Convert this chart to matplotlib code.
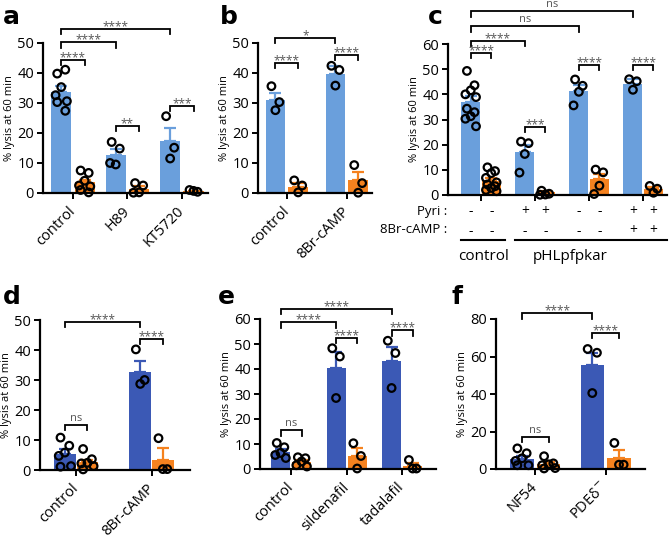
import matplotlib
matplotlib.use("Agg")
import matplotlib.pyplot as plt
import numpy as np
from matplotlib import transforms

plt.rcParams['font.family'] = ['Open Sans', 'DejaVu Sans']

LIGHT = "#6a9fdc"
DARK = "#3b59b5"
ORANGE = "#f5821f"
GREY = "#555555"

# ---------------- data ----------------
a_groups = ["control", "H89", "KT5720"]
a_blue_mean = [33.8, 12.8, 17.5]
a_blue_err = [2.0, 1.9, 4.2]
a_orange_mean = [3.6, 1.5, 0.6]
a_orange_err = [0.8, 0.7, 0.2]
a_blue_pts = [[39.8, 41.1, 35.3, 32.6, 30.6, 30.3, 27.4], [17.0, 14.8, 9.5, 10.0], [25.6, 15.1, 11.5]]
a_orange_pts = [[7.5, 6.7, 4.1, 2.5, 2.2, 1.0, 0.2], [3.3, 2.5, 0.2, 0.1], [1.0, 0.4, 0.7]]
a_brackets = [((0, 'b'), (0, 'o'), 44.4, "****"), ((0, 'b'), (1, 'b'), 50.2, "****"),
              ((0, 'b'), (2, 'b'), 54.7, "****"), ((1, 'b'), (1, 'o'), 22.4, "**"),
              ((2, 'b'), (2, 'o'), 29.1, "***")]

b_groups = ["control", "8Br-cAMP"]
b_blue_mean = [31.1, 39.8]
b_blue_err = [2.2, 2.4]
b_orange_mean = [2.0, 4.2]
b_orange_err = [1.3, 2.8]
b_blue_pts = [[35.6, 30.3, 27.6], [42.4, 41.0, 35.8]]
b_orange_pts = [[4.2, 2.5, 0.2], [9.3, 3.3, 0.1]]
b_brackets = [((0, 'b'), (1, 'b'), 51.7, "*"), ((0, 'b'), (0, 'o'), 43.3, "****"),
              ((1, 'b'), (1, 'o'), 46.1, "****")]

c_groups = ["", "", "", ""]
c_blue_mean = [36.9, 17.0, 41.5, 44.2]
c_blue_err = [2.4, 3.0, 2.1, 1.8]
c_orange_mean = [5.5, 1.0, 6.2, 2.3]
c_orange_err = [1.1, 0.4, 2.3, 0.8]
c_blue_pts = [[49.3, 43.6, 41.6, 40.0, 38.9, 34.3, 32.9, 31.3, 30.3, 27.3],
              [21.2, 20.6, 16.3, 8.9], [45.9, 43.4, 41.0, 35.6], [46.0, 45.2, 41.8]]
c_orange_pts = [[11.0, 9.5, 8.7, 6.8, 5.0, 4.2, 3.5, 2.8, 2.0, 1.5],
                [1.7, 0.5, 0.2, 0.1], [10.1, 9.0, 3.7, 0.4], [3.6, 2.5, 0.9]]
c_brackets = [((0, 'b'), (0, 'o'), 56.4, "****"), ((0, 'b'), (1, 'b'), 61.3, "****"),
              ((0, 'b'), (2, 'b'), 67.0, "ns"), ((0, 'b'), (3, 'b'), 73.0, "ns"),
              ((1, 'b'), (1, 'o'), 27.0, "***"), ((2, 'b'), (2, 'o'), 51.8, "****"),
              ((3, 'b'), (3, 'o'), 51.8, "****")]
c_pyri = ["-", "-", "+", "+", "-", "-", "+", "+"]
c_8br = ["-", "-", "-", "-", "-", "-", "+", "+"]
c_row_labels = ["Pyri :", "8Br-cAMP :"]
c_strain_labels = ["control", "pHLpfpkar"]

d_groups = ["control", "8Br-cAMP"]
d_blue_mean = [5.2, 32.8]
d_blue_err = [1.8, 3.7]
d_orange_mean = [2.6, 3.5]
d_orange_err = [0.9, 3.7]
d_blue_pts = [[10.8, 8.1, 5.8, 4.7, 1.3, 1.1], [40.2, 30.0, 28.7]]
d_orange_pts = [[7.0, 3.6, 2.4, 2.2, 1.3, 0.2], [10.6, 0.3, 0.3]]
d_brackets = [((0, 'b'), (1, 'b'), 49.4, "****"), ((1, 'b'), (1, 'o'), 43.6, "****"),
              ((0, 'b'), (0, 'o'), 15.0, "ns")]

e_groups = ["control", "sildenafil", "tadalafil"]
e_blue_mean = [6.8, 40.3, 43.2]
e_blue_err = [1.3, 6.5, 5.8]
e_orange_mean = [2.8, 5.3, 1.2]
e_orange_err = [0.8, 3.1, 1.3]
e_blue_pts = [[10.4, 8.7, 6.4, 5.6, 4.4], [48.3, 45.0, 28.4], [51.3, 46.4, 32.4]]
e_orange_pts = [[4.7, 4.3, 3.0, 1.5, 1.0], [10.3, 5.2, 0.2], [3.6, 0.2, 0.2]]
e_brackets = [((0, 'b'), (2, 'b'), 64.0, "****"), ((0, 'b'), (1, 'b'), 58.7, "****"),
              ((1, 'b'), (1, 'o'), 52.4, "****"), ((2, 'b'), (2, 'o'), 55.5, "****"),
              ((0, 'b'), (0, 'o'), 15.5, "ns")]

f_groups = ["NF54", "PDEδ$^{-}$"]
f_blue_mean = [5.5, 55.5]
f_blue_err = [1.7, 6.5]
f_orange_mean = [2.8, 6.0]
f_orange_err = [1.0, 4.0]
f_blue_pts = [[11.0, 8.4, 5.7, 4.3, 2.0, 2.0], [64.0, 62.0, 40.5]]
f_orange_pts = [[6.8, 3.0, 2.5, 2.0, 0.5, 0.3], [13.9, 2.3, 2.3]]
f_brackets = [((0, 'b'), (1, 'b'), 83.0, "****"), ((1, 'b'), (1, 'o'), 72.7, "****"),
              ((0, 'b'), (0, 'o'), 17.2, "ns")]

# ---------------- layout ----------------
W, H = 670, 538
fig = plt.figure(figsize=(W / 100, H / 100), dpi=100)


def add_ax(x0, x1, ytop, ybot):
    ax = fig.add_axes([x0 / W, 1 - ybot / H, (x1 - x0) / W, (ybot - ytop) / H])
    ax._px_width = x1 - x0
    return ax


def jitter(n, width):
    pat = [-0.2, 0.2, 0.0, -0.28, 0.28]
    return np.array([pat[i % len(pat)] for i in range(n)]) * width


def panel(ax, groups, bm, be, om, oe, bp, op, brackets, ylim, yticks, xlim,
          width, off, bcolor, label_rot=True):
    x = np.arange(len(groups))
    pos = {'b': -off, 'o': off}
    for col, mean, err, pts, key in [(bcolor, bm, be, bp, 'b'), (ORANGE, om, oe, op, 'o')]:
        xs = x + pos[key]
        ax.bar(xs, mean, width, color=col, zorder=1)
        ax.errorbar(xs, mean, yerr=[np.zeros(len(mean)), err], fmt='none',
                    ecolor=col, elinewidth=1.6, capsize=4, capthick=1.6, zorder=1)
        for xi, vals in zip(xs, pts):
            v = np.array(vals)
            ax.scatter(xi + jitter(len(v), width), v, s=30, facecolors='none',
                       edgecolors='black', linewidths=1.6, zorder=3, clip_on=False)
    ax.set_xlim(*xlim)
    ax.set_ylim(*ylim)
    ax.set_yticks(yticks)
    ax.set_xticks(x)
    if label_rot:
        ax.set_xticklabels(groups, rotation=45, ha='right', va='center',
                           rotation_mode='anchor', fontsize=11)
    else:
        ax.set_xticklabels(groups)
    for s in ['top', 'right']:
        ax.spines[s].set_visible(False)
    for s in ['left', 'bottom']:
        ax.spines[s].set_linewidth(1.6)
    ax.tick_params(axis='both', width=1.4, length=4.5, labelsize=10.5)
    ax.tick_params(axis='x', pad=7)
    ax.tick_params(axis='y', pad=2)
    ax.set_ylabel("% lysis at 60 min", fontsize=8)
    ax.yaxis.set_label_coords(-28.0 / ax._px_width, 0.5)
    rng = ylim[1] - ylim[0]
    tick = 0.035 * rng
    for (g1, k1), (g2, k2), y, txt in brackets:
        x1 = g1 + pos[k1]
        x2 = g2 + pos[k2]
        ax.plot([x1, x1, x2, x2], [y - tick, y, y, y - tick], color='black', lw=1.3,
                clip_on=False, zorder=4, solid_joinstyle='miter')
        if txt == 'ns':
            ax.text((x1 + x2) / 2, y + 0.008 * rng, txt, ha='center', va='bottom',
                    fontsize=8, color=GREY, clip_on=False)
        else:
            ax.text((x1 + x2) / 2, y - 0.028 * rng, txt, ha='center', va='bottom',
                    fontsize=8.5, color=GREY, clip_on=False)
    return x, pos


ax_a = add_ax(43, 208, 43, 193)
panel(ax_a, a_groups, a_blue_mean, a_blue_err, a_orange_mean, a_orange_err,
      a_blue_pts, a_orange_pts, a_brackets, (0, 50), [0, 10, 20, 30, 40, 50],
      (-0.55, 2.48), 0.37, 0.215, LIGHT)

ax_b = add_ax(258, 372, 43, 193)
panel(ax_b, b_groups, b_blue_mean, b_blue_err, b_orange_mean, b_orange_err,
      b_blue_pts, b_orange_pts, b_brackets, (0, 50), [0, 10, 20, 30, 40, 50],
      (-0.48, 1.42), 0.33, 0.19, LIGHT)

ax_c = add_ax(448, 667, 44, 195)
xc, posc = panel(ax_c, c_groups, c_blue_mean, c_blue_err, c_orange_mean, c_orange_err,
                 c_blue_pts, c_orange_pts, c_brackets, (0, 60), [0, 10, 20, 30, 40, 50, 60],
                 (-0.61, 3.44), 0.35, 0.19, LIGHT, label_rot=False)
ax_c.set_xticklabels([])
tr = transforms.blended_transform_factory(ax_c.transData, fig.transFigure)
bar_x = []
for g in xc:
    bar_x += [g + posc['b'], g + posc['o']]
for xi, s1, s2 in zip(bar_x, c_pyri, c_8br):
    fig.text(xi, 1 - 212 / H, s1, transform=tr, ha='center', va='center', fontsize=10)
    fig.text(xi, 1 - 231 / H, s2, transform=tr, ha='center', va='center', fontsize=10)
fig.text(447 / W, 1 - 211 / H, c_row_labels[0], ha='right', va='center', fontsize=9.5)
fig.text(447 / W, 1 - 230 / H, c_row_labels[1], ha='right', va='center', fontsize=9.5)
ax_c.plot([xc[0] - 0.37, xc[0] + 0.45], [1 - 240 / H] * 2, transform=tr, color='black',
          lw=1.5, clip_on=False)
ax_c.plot([xc[1] - 0.37, 3.44], [1 - 240 / H] * 2, transform=tr, color='black',
          lw=1.5, clip_on=False)
fig.text(xc[0] + 0.04, 1 - 256 / H, c_strain_labels[0], transform=tr, ha='center',
         va='center', fontsize=11)
fig.text(1.65, 1 - 256 / H, c_strain_labels[1], transform=tr, ha='center',
         va='center', fontsize=11)

ax_d = add_ax(40, 190, 320, 470)
panel(ax_d, d_groups, d_blue_mean, d_blue_err, d_orange_mean, d_orange_err,
      d_blue_pts, d_orange_pts, d_brackets, (0, 50), [0, 10, 20, 30, 40, 50],
      (-0.48, 1.51), 0.29, 0.15, DARK)

ax_e = add_ax(260, 436, 319, 469)
panel(ax_e, e_groups, e_blue_mean, e_blue_err, e_orange_mean, e_orange_err,
      e_blue_pts, e_orange_pts, e_brackets, (0, 60), [0, 10, 20, 30, 40, 50, 60],
      (-0.56, 2.61), 0.34, 0.19, DARK)

ax_f = add_ax(496, 645, 319, 469)
panel(ax_f, f_groups, f_blue_mean, f_blue_err, f_orange_mean, f_orange_err,
      f_blue_pts, f_orange_pts, f_brackets, (0, 80), [0, 20, 40, 60, 80],
      (-0.56, 1.56), 0.33, 0.19, DARK)

for lab, px, py in [("a", 3, 5), ("b", 220, 5), ("c", 428, 5),
                    ("d", 3, 285), ("e", 218, 285), ("f", 452, 285)]:
    fig.text(px / W, 1 - py / H, lab, fontsize=18, fontweight='bold', ha='left', va='top',
             family='DejaVu Sans')

fig.savefig("out.png", dpi=100)
